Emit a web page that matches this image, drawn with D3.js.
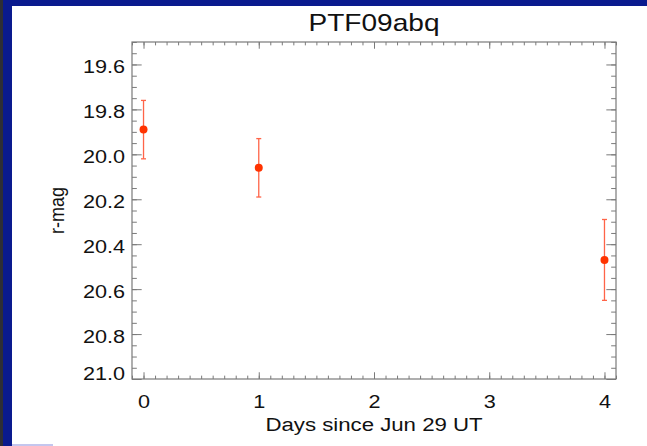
<!DOCTYPE html>
<html>
<head>
<meta charset="utf-8">
<script src="https://cdn.jsdelivr.net/npm/d3@7"></script>
<style>
  html, body { margin: 0; padding: 0; background: #ffffff; }
  svg { display: block; }
  text { font-family: "Liberation Sans", Arial, Helvetica, sans-serif; fill: #111; }
</style>
</head>
<body>
<svg id="chart" width="647" height="446"></svg>
<script>
// Light-curve data: days since Jun 29 UT, r-band magnitude and 1-sigma error
const days = [0, 1, 4];
const rMag = [19.89, 20.06, 20.47];
const rMagErr = [0.13, 0.13, 0.18];

const xMajorTicks = [0, 1, 2, 3, 4];
const yMajorTicks = [19.6, 19.8, 20.0, 20.2, 20.4, 20.6, 20.8, 21.0];
const yTickLabels = ["19.6", "19.8", "20.0", "20.2", "20.4", "20.6", "20.8", "21.0"];

const chartTitle = "PTF09abq";
const xTitle = "Days since Jun 29 UT";
const yTitle = "r-mag";

const W = 647, H = 446;
const plot = { left: 132, right: 616, top: 42, bottom: 379 };
const pw = plot.right - plot.left, ph = plot.bottom - plot.top;
const stretch = 1.17;   // glyphs are drawn slightly wide

const svg = d3.select("#chart");

// Slide frame: dark blue band across the top and down the left edge
svg.append("rect").attr("x", 0).attr("y", 0).attr("width", W).attr("height", H).attr("fill", "#ffffff");
svg.append("rect").attr("x", 0).attr("y", 0).attr("width", W).attr("height", 6).attr("fill", "#0a1a8e");
svg.append("rect").attr("x", 0).attr("y", 0).attr("width", 12).attr("height", H).attr("fill", "#0a1a8e");
svg.append("rect").attr("x", 0).attr("y", 0).attr("width", 3).attr("height", H).attr("fill", "#2e2e36");
svg.append("rect").attr("x", 12).attr("y", 444).attr("width", 41).attr("height", 2).attr("fill", "#c4c6ee");

const x = d3.scaleLinear().domain([-0.1, 4.1]).range([plot.left, plot.right]);
const y = d3.scaleLinear().domain([19.5, 21.0]).range([plot.top, plot.bottom]);

const xMinor = d3.range(-1, 42).map(i => i / 10);
const yMinor = d3.range(0, 31).map(i => 19.5 + i * 0.05);

const tickColor = "#7a7a7a";
const majX = 0.02 * ph, minX = majX / 2;   // ticks on horizontal axes
const majY = 0.02 * pw, minY = majY / 2;   // ticks on vertical axes

function styleAxis(g) {
  g.select(".domain").remove();
  g.selectAll(".tick line").attr("stroke", tickColor).attr("stroke-width", 1);
}

// Minor ticks (no labels)
svg.append("g").attr("transform", `translate(0,${plot.bottom})`)
  .call(d3.axisBottom(x).tickValues(xMinor).tickSize(-minX).tickFormat(""))
  .call(styleAxis);
svg.append("g").attr("transform", `translate(0,${plot.top})`)
  .call(d3.axisTop(x).tickValues(xMinor).tickSize(-minX).tickFormat(""))
  .call(styleAxis);
svg.append("g").attr("transform", `translate(${plot.left},0)`)
  .call(d3.axisLeft(y).tickValues(yMinor).tickSize(-minY).tickFormat(""))
  .call(styleAxis);
svg.append("g").attr("transform", `translate(${plot.right},0)`)
  .call(d3.axisRight(y).tickValues(yMinor).tickSize(-minY).tickFormat(""))
  .call(styleAxis);

// Major ticks with labels on bottom and left
const xAxis = svg.append("g").attr("transform", `translate(0,${plot.bottom})`)
  .call(d3.axisBottom(x).tickValues(xMajorTicks).tickSize(-majX).tickPadding(16).tickFormat(d3.format("d")))
  .call(styleAxis);
xAxis.selectAll("text").attr("font-size", 18.5).attr("fill", "#111")
  .attr("transform", `scale(${stretch},1)`);

const yAxis = svg.append("g").attr("transform", `translate(${plot.left},0)`)
  .call(d3.axisLeft(y).tickValues(yMajorTicks).tickSize(-majY).tickPadding(7)
    .tickFormat((d, i) => yTickLabels[i]))
  .call(styleAxis);
yAxis.selectAll("text").attr("font-size", 18.5).attr("fill", "#111").attr("dy", "0.45em")
  .attr("x", 0).attr("transform", `translate(-7,0) scale(${stretch},1)`);
// keep the end label inside the axis span
yAxis.selectAll(".tick").filter(d => d === 21.0).select("text").attr("dy", "0.02em");

svg.append("g").attr("transform", `translate(0,${plot.top})`)
  .call(d3.axisTop(x).tickValues(xMajorTicks).tickSize(-majX).tickFormat(""))
  .call(styleAxis);
svg.append("g").attr("transform", `translate(${plot.right},0)`)
  .call(d3.axisRight(y).tickValues(yMajorTicks).tickSize(-majY).tickFormat(""))
  .call(styleAxis);

// Plot box
svg.append("rect").attr("x", plot.left).attr("y", plot.top).attr("width", pw).attr("height", ph)
  .attr("fill", "none").attr("stroke", tickColor).attr("stroke-width", 1.2);

// Titles
const cx = (plot.left + plot.right) / 2;
svg.append("text").attr("transform", `translate(${cx},31) scale(${stretch},1)`)
  .attr("text-anchor", "middle").attr("font-size", 24).text(chartTitle);
svg.append("text").attr("transform", `translate(${cx},431) scale(${stretch},1)`)
  .attr("text-anchor", "middle").attr("font-size", 19).text(xTitle);
svg.append("text").attr("transform", `translate(64,${(plot.top + plot.bottom) / 2}) scale(${stretch},1) rotate(-90)`)
  .attr("text-anchor", "middle").attr("font-size", 18).text(yTitle);

// Data: error bars with caps, then points
const pts = days.map((d, i) => ({ d, m: rMag[i], e: rMagErr[i] }));
const eb = svg.append("g").attr("stroke", "#ff6448").attr("stroke-width", 1.3);
eb.selectAll("line.bar").data(pts).join("line").attr("class", "bar")
  .attr("x1", p => x(p.d)).attr("x2", p => x(p.d))
  .attr("y1", p => y(p.m - p.e)).attr("y2", p => y(p.m + p.e));
eb.selectAll("line.capt").data(pts).join("line").attr("class", "capt")
  .attr("x1", p => x(p.d) - 2.5).attr("x2", p => x(p.d) + 2.5)
  .attr("y1", p => y(p.m - p.e)).attr("y2", p => y(p.m - p.e));
eb.selectAll("line.capb").data(pts).join("line").attr("class", "capb")
  .attr("x1", p => x(p.d) - 2.5).attr("x2", p => x(p.d) + 2.5)
  .attr("y1", p => y(p.m + p.e)).attr("y2", p => y(p.m + p.e));
svg.append("g").selectAll("circle").data(pts).join("circle")
  .attr("cx", p => x(p.d)).attr("cy", p => y(p.m)).attr("r", 4)
  .attr("fill", "#ff3300");
</script>
</body>
</html>
